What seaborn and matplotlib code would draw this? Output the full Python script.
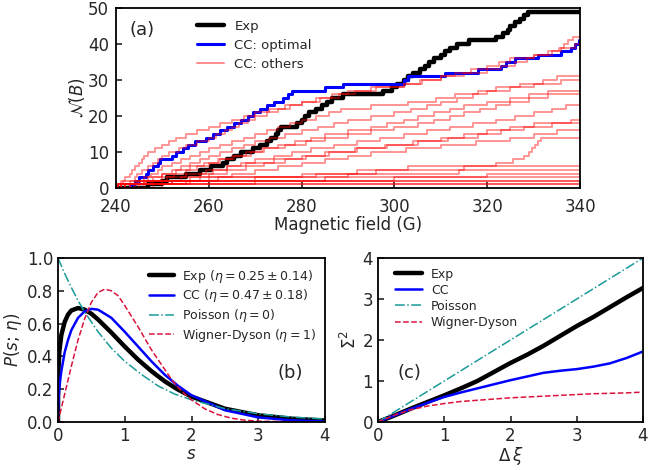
import matplotlib
matplotlib.use("Agg")
import matplotlib.pyplot as plt
import seaborn as sns
import numpy as np
from matplotlib.lines import Line2D

# ---------------- data: panel (a) staircase step positions (field values, G) -----------
exp_steps = [247, 250, 251, 255, 258, 260.5, 263, 264, 265.5, 267, 269.5, 271, 272.5, 273.5,
             274.5, 275, 275.5, 279, 280, 280.7, 281.5, 283, 284.5, 285.5, 286.5, 289, 297.5,
             299.5, 300.5, 302, 303, 304, 305.5, 306.5, 307.5, 308.5, 310, 311, 312, 313.5,
             316, 322, 323.5, 324.5, 325, 326, 327, 328, 328.8]
cc_opt_steps = [243, 244, 245, 246.5, 247, 248, 249, 249.5, 252, 253, 254.5, 255.5, 257, 259.5,
                261, 262.5, 264, 265.5, 267, 268.5, 269.5, 271, 272.5, 274, 276, 277, 278, 285,
                289, 302, 303, 311, 318, 323, 324, 326, 331, 336, 338, 339, 339.7]
cc_other_steps = [
    [241, 241, 242, 243, 243.5, 244, 245, 245.5, 246, 247, 248.5, 250, 251.5, 253, 255, 257.5,
     260, 262.5, 265, 267.5, 270, 273, 276.5, 280, 283, 286.5, 290, 296, 302, 305.5, 310, 315,
     320, 323, 326, 328.5, 330, 334, 335.5, 336.5, 337.5, 338.5],
    [242, 243, 244, 244.5, 245.5, 247, 248, 249, 250, 251.5, 253.5, 255, 257.5, 260, 261.5,
     263.5, 265, 266.5, 268.5, 270, 272.5, 275, 277.5, 280, 284, 288, 291.5, 295, 302, 306, 310,
     313, 316.5, 320, 322.5, 325, 330, 333, 336, 339],
    [243, 244.5, 246, 247.5, 249, 250, 252, 254, 256, 258, 260, 262.5, 265, 267.5, 270, 272.5,
     275, 277.5, 280, 283, 286, 288.5, 295, 303, 309, 313, 318, 322, 327, 332, 335],
    [244, 246, 248, 250, 252, 254, 256, 258, 260, 262.5, 265, 267.5, 270, 273, 276.5, 280,
     283.5, 287, 290, 295, 300, 303.5, 307, 310, 313.5, 317, 320, 325, 330, 336],
    [245, 247.5, 250, 252.5, 255, 257.5, 260, 262.5, 265, 268, 271.5, 275, 278.5, 282, 285, 290,
     295, 298.5, 302, 305, 308.5, 312, 315, 320, 325, 329, 333],
    [241, 244, 247, 250, 253, 256, 259, 262, 265.5, 269, 272, 276.5, 281, 285, 290, 295, 300,
     305, 308.5, 312, 315, 318.5, 322, 325, 329, 333],
    [246, 250, 254, 258, 261, 264, 267, 270, 274, 278, 282, 287, 292, 297, 302, 307, 312, 317,
     322, 326, 330, 334, 337],
    [248, 252, 256, 260, 264, 268, 272, 276.5, 281, 285, 291.5, 298, 304, 310, 315, 320, 325,
     330, 338],
    [242, 246.5, 251, 255, 259.5, 264, 268, 274, 280, 286, 292, 298.5, 305, 311.5, 318, 323,
     328, 334],
    [250, 255, 260, 265, 270, 275, 280, 285, 290, 295, 302.5, 310, 317.5, 325, 330, 335],
    [243, 256, 270, 283, 292, 315, 322, 325.5, 328, 329, 329.7, 330.3, 331, 331.5],
    [241, 248, 262, 280, 296, 303],
    [240.5, 245, 258, 290, 314],
    [240.5, 252, 285, 320],
    [240.5, 246, 300],
    [240.5, 270],
    [241, 241.5],
    [240.5],
    [242],
]
B_min, B_max = 240, 340

# ---------------- data: panel (b) spacing distributions --------------------------
s_exp = [0, 0.001, 0.005, 0.02, 0.05, 0.1, 0.15, 0.2, 0.3, 0.4, 0.5, 0.6, 0.8, 1.0, 1.2, 1.4,
         1.6, 1.8, 2.0, 2.5, 3.0, 3.5, 4.0]
p_exp = [0, 0.20, 0.30, 0.43, 0.53, 0.61, 0.655, 0.68, 0.695, 0.685, 0.66, 0.625, 0.545, 0.46,
         0.38, 0.31, 0.248, 0.197, 0.155, 0.081, 0.041, 0.020, 0.009]
s_cc = [0, 0.001, 0.01, 0.03, 0.05, 0.1, 0.15, 0.2, 0.3, 0.4, 0.5, 0.6, 0.8, 1.0, 1.2, 1.4,
        1.6, 1.8, 2.0, 2.5, 3.0, 3.5, 4.0]
p_cc = [0, 0.05, 0.15, 0.245, 0.31, 0.425, 0.50, 0.56, 0.635, 0.675, 0.69, 0.685, 0.635, 0.55,
        0.46, 0.37, 0.288, 0.22, 0.163, 0.072, 0.028, 0.010, 0.003]
s_poi = [0, 0.1, 0.2, 0.3, 0.4, 0.5, 0.6, 0.7, 0.8, 0.9, 1.0, 1.25, 1.5, 1.75, 2.0, 2.5, 3.0,
         3.5, 4.0]
p_poi = [1.0, 0.905, 0.82, 0.74, 0.67, 0.61, 0.55, 0.50, 0.45, 0.41, 0.37, 0.29, 0.22, 0.17,
         0.135, 0.082, 0.05, 0.03, 0.018]
s_wd = [0, 0.1, 0.2, 0.3, 0.4, 0.5, 0.6, 0.7, 0.8, 0.9, 1.0, 1.1, 1.2, 1.3, 1.4, 1.5, 1.6, 1.7,
        1.8, 1.9, 2.0, 2.2, 2.4, 2.6, 2.8, 3.0, 3.5, 4.0]
p_wd = [0, 0.17, 0.34, 0.50, 0.63, 0.73, 0.79, 0.81, 0.80, 0.77, 0.71, 0.645, 0.58, 0.51, 0.44,
        0.38, 0.32, 0.26, 0.21, 0.17, 0.135, 0.08, 0.045, 0.023, 0.011, 0.005, 0.001, 0.0]

# ---------------- data: panel (c) number variance ---------------------------------
L_vals = [0, 0.25, 0.5, 0.75, 1, 1.25, 1.5, 1.75, 2, 2.25, 2.5, 2.75, 3, 3.25, 3.5, 3.75, 4]
sig_exp = [0, 0.16, 0.33, 0.49, 0.65, 0.82, 1.0, 1.22, 1.44, 1.64, 1.86, 2.1, 2.34, 2.56, 2.8,
           3.04, 3.27]
sig_cc = [0, 0.16, 0.32, 0.47, 0.61, 0.72, 0.82, 0.92, 1.02, 1.11, 1.2, 1.25, 1.29, 1.35, 1.43,
          1.56, 1.72]
sig_wd = [0, 0.17, 0.30, 0.39, 0.45, 0.50, 0.53, 0.56, 0.59, 0.61, 0.63, 0.65, 0.67, 0.69, 0.70,
          0.71, 0.73]
L_poi = [0, 4]
sig_poi = [0, 4]

# ---------------- style ------------------------------------------------------------
sns.set_style("ticks")
plt.rcParams.update({
    "font.family": ["DejaVu Sans"],
    "xtick.direction": "in", "ytick.direction": "in",
    "xtick.major.size": 4, "ytick.major.size": 4,
    "xtick.major.width": 1.2, "ytick.major.width": 1.2,
    "axes.linewidth": 1.3, "axes.edgecolor": "black",
    "xtick.labelsize": 12, "ytick.labelsize": 12,
    "axes.labelsize": 12,
})

BLACK = "black"
BLUE = "#0000ff"
RED = "#ff0000"
TEAL = "#1a9a9a"
CRIMSON = "#dc143c"

fig = plt.figure(figsize=(6.49, 4.70), dpi=100)
ax_a = fig.add_axes([116 / 649, 1 - 188 / 470, 464 / 649, 180 / 470])
ax_b = fig.add_axes([58 / 649, 1 - 422 / 470, 267 / 649, 164 / 470])
ax_c = fig.add_axes([378 / 649, 1 - 422 / 470, 265 / 649, 164 / 470])


def stair(steps):
    xs = [B_min] + list(steps) + [B_max]
    ys = [0] + list(range(1, len(steps) + 1)) + [len(steps)]
    return xs, ys


# panel (a)
x, y = stair(exp_steps)
sns.lineplot(x=x, y=y, ax=ax_a, color=BLACK, lw=3.2, drawstyle="steps-post",
             estimator=None, sort=False)
x, y = stair(cc_opt_steps)
sns.lineplot(x=x, y=y, ax=ax_a, color=BLUE, lw=2.2, drawstyle="steps-post",
             estimator=None, sort=False)
for st in cc_other_steps:
    x, y = stair(st)
    sns.lineplot(x=x, y=y, ax=ax_a, color=RED, lw=1.4, alpha=0.42, drawstyle="steps-post",
                 estimator=None, sort=False)
ax_a.set_xlim(240, 340)
ax_a.set_ylim(0, 50)
ax_a.set_xticks([240, 260, 280, 300, 320, 340])
ax_a.set_yticks([0, 10, 20, 30, 40, 50])
ax_a.tick_params(axis="x", pad=7)
ax_a.tick_params(axis="y", pad=5)
ax_a.set_xlabel("Magnetic field (G)", labelpad=0)
ax_a.set_ylabel(r"$\mathcal{N}(B)$", labelpad=1)
ax_a.text(0.03, 0.93, "(a)", transform=ax_a.transAxes, fontsize=13, va="top")
h_a = [Line2D([], [], color=BLACK, lw=3.2), Line2D([], [], color=BLUE, lw=2.2),
       Line2D([], [], color=RED, lw=1.4, alpha=0.45)]
ax_a.legend(h_a, ["Exp", "CC: optimal", "CC: others"], loc="upper left",
            bbox_to_anchor=(0.15, 1.0), frameon=False, fontsize=9.5,
            handlelength=2.0, labelspacing=0.45)

# panel (b)
sns.lineplot(x=s_exp, y=p_exp, ax=ax_b, color=BLACK, lw=3.2, estimator=None, sort=False)
sns.lineplot(x=s_cc, y=p_cc, ax=ax_b, color=BLUE, lw=1.8, estimator=None, sort=False)
sns.lineplot(x=s_poi, y=p_poi, ax=ax_b, color=TEAL, lw=1.1, ls="-.", estimator=None, sort=False)
sns.lineplot(x=s_wd, y=p_wd, ax=ax_b, color=CRIMSON, lw=1.1, ls="--", estimator=None, sort=False)
ax_b.set_xlim(0, 4)
ax_b.set_ylim(0, 1.0)
ax_b.set_xticks([0, 1, 2, 3, 4])
ax_b.set_yticks([0, 0.2, 0.4, 0.6, 0.8, 1.0])
ax_b.set_xlabel(r"$s$", labelpad=0)
ax_b.set_ylabel(r"$P(s;\,\eta)$", labelpad=2)
ax_b.text(0.87, 0.30, "(b)", transform=ax_b.transAxes, fontsize=13, ha="center", va="center")
h_b = [Line2D([], [], color=BLACK, lw=3.2), Line2D([], [], color=BLUE, lw=1.8),
       Line2D([], [], color=TEAL, lw=1.1, ls="-."), Line2D([], [], color=CRIMSON, lw=1.1, ls="--")]
ax_b.legend(h_b, [r"Exp ($\eta = 0.25 \pm 0.14$)", r"CC ($\eta = 0.47 \pm 0.18$)",
                  r"Poisson ($\eta = 0$)", r"Wigner-Dyson ($\eta = 1$)"],
            loc="upper right", bbox_to_anchor=(1.01, 1.01), frameon=False, fontsize=9,
            handlelength=2.0, labelspacing=0.22, handletextpad=0.7)

# panel (c)
sns.lineplot(x=L_vals, y=sig_exp, ax=ax_c, color=BLACK, lw=3.2, estimator=None, sort=False)
sns.lineplot(x=L_vals, y=sig_cc, ax=ax_c, color=BLUE, lw=1.8, estimator=None, sort=False)
sns.lineplot(x=L_poi, y=sig_poi, ax=ax_c, color=TEAL, lw=1.1, ls="-.", estimator=None, sort=False)
sns.lineplot(x=L_vals, y=sig_wd, ax=ax_c, color=CRIMSON, lw=1.1, ls="--", estimator=None, sort=False)
ax_c.set_xlim(0, 4)
ax_c.set_ylim(0, 4)
ax_c.set_xticks([0, 1, 2, 3, 4])
ax_c.set_yticks([0, 1, 2, 3, 4])
ax_c.set_xlabel(r"$\Delta\,\xi$", labelpad=0)
ax_c.set_ylabel(r"$\Sigma^2$", labelpad=2)
ax_c.text(0.12, 0.30, "(c)", transform=ax_c.transAxes, fontsize=13, ha="center", va="center")
h_c = [Line2D([], [], color=BLACK, lw=3.2), Line2D([], [], color=BLUE, lw=1.8),
       Line2D([], [], color=TEAL, lw=1.1, ls="-."), Line2D([], [], color=CRIMSON, lw=1.1, ls="--")]
ax_c.legend(h_c, ["Exp", "CC", "Poisson", "Wigner-Dyson"], loc="upper left",
            bbox_to_anchor=(0.02, 1.01), frameon=False, fontsize=9,
            handlelength=2.2, labelspacing=0.25, handletextpad=0.7)

for ax in (ax_a, ax_b, ax_c):
    for sp in ax.spines.values():
        sp.set_visible(True)

fig.savefig("out.png", dpi=100)
